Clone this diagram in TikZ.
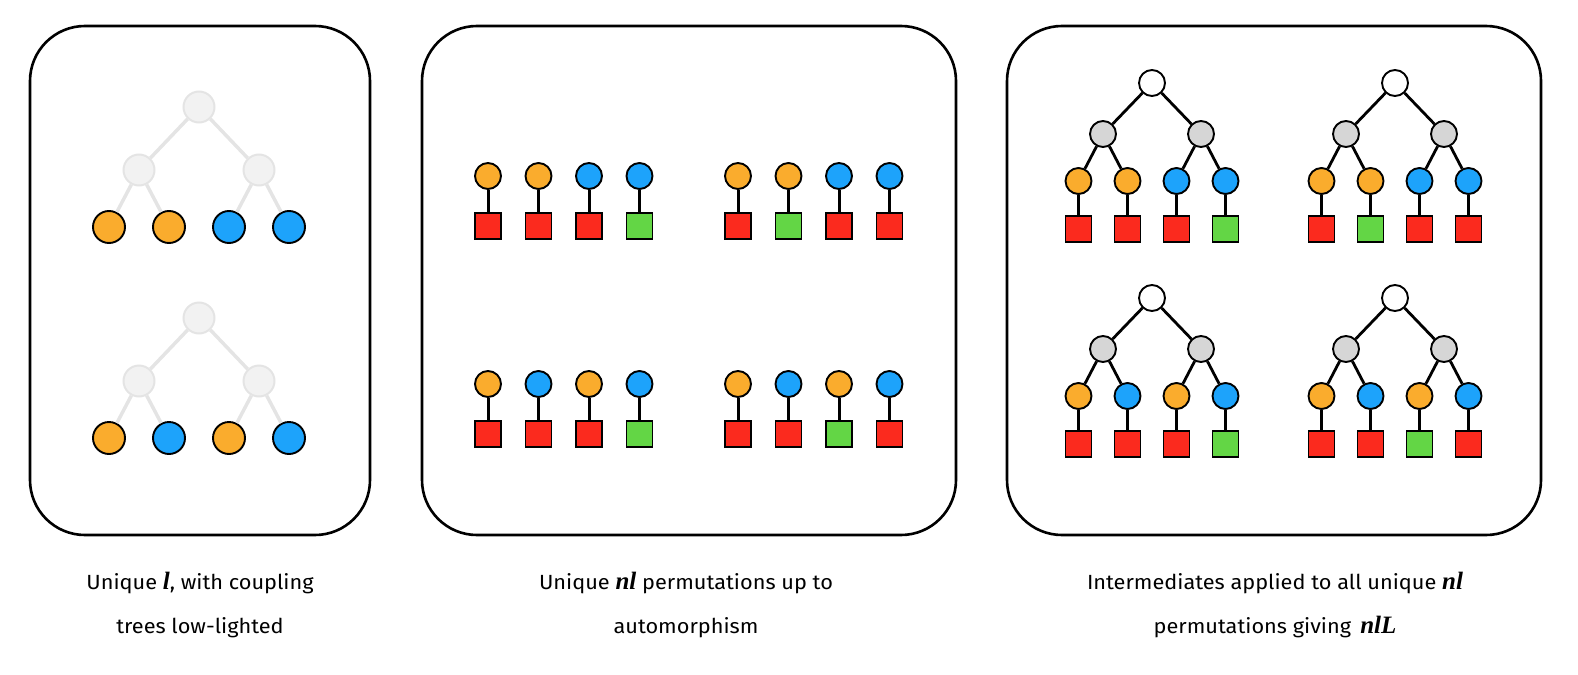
\documentclass[tikz,border=0pt]{standalone}
\usepackage{fontspec}
\setmainfont{Fira Sans}[FakeStretch=1.06]
\newfontfamily\symfont{Liberation Serif}
\newcommand{\sym}[1]{{\symfont\bfseries\itshape\fontsize{25pt}{44pt}\selectfont #1}}
\usetikzlibrary{shapes,backgrounds}

\definecolor{orng}{HTML}{FAAC2D}
\definecolor{blu}{HTML}{1DA3FB}
\definecolor{rd}{HTML}{FB2A1E}
\definecolor{grn}{HTML}{63D645}
\definecolor{midgray}{HTML}{D6D6D6}
\definecolor{fadefill}{HTML}{F2F2F2}
\definecolor{fadeline}{HTML}{E4E4E4}

\tikzset{
	panel/.style={draw, line width=2.6pt, rounded corners=55pt},
	leafball/.style={circle, draw, line width=1.9pt, inner sep=0pt, minimum size=26pt},
	sitebox/.style={rectangle, draw, line width=1.9pt, inner sep=0pt, minimum size=26pt},
	fadednode/.style={circle, draw=fadeline, fill=fadefill, line width=2pt, inner sep=0pt, minimum size=31pt},
	fadededge/.style={fadeline, line width=3.5pt},
	treeedge/.style={line width=2.8pt},
	stick/.style={line width=3pt},
	caption/.style={align=center, font={\fontsize{20.5pt}{44pt}\selectfont}, anchor=base}
}

%Coupling tree with faded inner nodes: #1 name, (#2,#3) root, #4 leaf colours
\newcommand{\fadedtree}[4]{%
	\begin{scope}[shift={(#2,#3)}]
	\node[fadednode] (#1r) at (0,0) {};
	\node[fadednode] (#1m1) at (-60,63) {};
	\node[fadednode] (#1m2) at (60,63) {};
	\foreach \c [count=\i] in {#4}
		\node[leafball, minimum size=32pt, fill=\c] (#1l\i) at ({-150+60*\i},120) {};
	\draw[fadededge] (#1r) -- (#1m1);
	\draw[fadededge] (#1r) -- (#1m2);
	\draw[fadededge] (#1m1) -- (#1l1);
	\draw[fadededge] (#1m1) -- (#1l2);
	\draw[fadededge] (#1m2) -- (#1l3);
	\draw[fadededge] (#1m2) -- (#1l4);
	\end{scope}
}

%Row of leaves with their boxes: #1 name, (#2,#3) first leaf, #4 leaf/box colours
\newcommand{\leafrow}[4]{%
	\foreach \c/\s [count=\i] in {#4} {
		\node[leafball, fill=\c] (#1c\i) at ({#2+50.5*(\i-1)},#3) {};
		\node[sitebox, fill=\s] (#1s\i) at ({#2+50.5*(\i-1)},{#3+50}) {};
		\draw[stick] (#1c\i) -- (#1s\i);
	}
}

%Full coupling tree with boxes: #1 name, (#2,#3) root, #4 leaf/box colours
\newcommand{\fulltree}[4]{%
	\begin{scope}[shift={(#2,#3)}]
	\node[leafball, fill=white] (#1r) at (0,0) {};
	\node[leafball, fill=midgray] (#1m1) at (-49,51) {};
	\node[leafball, fill=midgray] (#1m2) at (49,51) {};
	\foreach \c/\s [count=\i] in {#4} {
		\node[leafball, fill=\c] (#1l\i) at ({-122.5+49*\i},98) {};
		\node[sitebox, fill=\s] (#1s\i) at ({-122.5+49*\i},146) {};
		\draw[stick] (#1l\i) -- (#1s\i);
	}
	\draw[treeedge] (#1r) -- (#1m1);
	\draw[treeedge] (#1r) -- (#1m2);
	\draw[treeedge] (#1m1) -- (#1l1);
	\draw[treeedge] (#1m1) -- (#1l2);
	\draw[treeedge] (#1m2) -- (#1l3);
	\draw[treeedge] (#1m2) -- (#1l4);
	\end{scope}
}

\begin{document}
\begin{tikzpicture}[x=1pt, y=-1pt]
	\useasboundingbox (0,0) rectangle (1578,674);

	%The three panels
	\draw[panel] (30,26) rectangle (370,535);
	\draw[panel] (422,26) rectangle (956,535);
	\draw[panel] (1007,26) rectangle (1541,535);

	%Panel 1: unique l
	\fadedtree{ta}{199}{107}{orng,orng,blu,blu}
	\fadedtree{tb}{199}{318}{orng,blu,orng,blu}

	%Panel 2: nl permutations
	\leafrow{pa}{488}{176}{orng/rd,orng/rd,blu/rd,blu/grn}
	\leafrow{pb}{738}{176}{orng/rd,orng/grn,blu/rd,blu/rd}
	\leafrow{pc}{488}{384}{orng/rd,blu/rd,orng/rd,blu/grn}
	\leafrow{pd}{738}{384}{orng/rd,blu/rd,orng/grn,blu/rd}

	%Panel 3: nlL
	\fulltree{qa}{1152}{83}{orng/rd,orng/rd,blu/rd,blu/grn}
	\fulltree{qb}{1395}{83}{orng/rd,orng/grn,blu/rd,blu/rd}
	\fulltree{qc}{1152}{298}{orng/rd,blu/rd,orng/rd,blu/grn}
	\fulltree{qd}{1395}{298}{orng/rd,blu/rd,orng/grn,blu/rd}

	%Captions (anchored at the second line)
	\node[caption] (capa) at (200,633) {Unique \sym{l}, with coupling\\trees low-lighted};
	\node[caption] (capb) at (686,633) {Unique \sym{nl} permutations up to\\automorphism};
	\node[caption] (capc) at (1275,633) {Intermediates applied to all unique \sym{nl}\\permutations giving\ \,\sym{nlL}};
\end{tikzpicture}
\end{document}
